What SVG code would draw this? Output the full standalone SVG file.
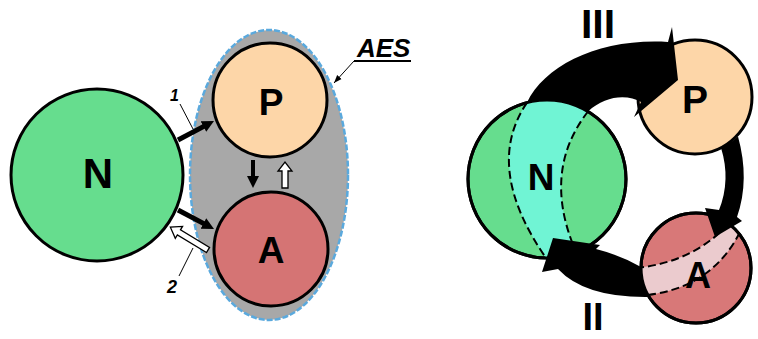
<svg xmlns="http://www.w3.org/2000/svg" width="758" height="339" viewBox="0 0 758 339">
<style>
.node{stroke:#000;stroke-width:3}
.lbl{font-family:"Liberation Sans",Arial,sans-serif;font-weight:bold;fill:#000;text-anchor:middle}
.it{font-family:"Liberation Sans",Arial,sans-serif;font-weight:bold;font-style:italic;fill:#000}
.dash{fill:none;stroke:#000;stroke-width:2;stroke-dasharray:8 4}
.thick{stroke:#000;stroke-width:5;fill:none}
.thin{stroke:#000;stroke-width:1;fill:none}
.hollow{fill:#fff;stroke:#000;stroke-width:1.3}
.big{fill:#000}
</style>
<defs>
<marker id="hd" markerUnits="userSpaceOnUse" markerWidth="14" markerHeight="14" refX="1" refY="0" viewBox="0 -7 14 14" orient="auto"><path d="M0,-6 L12,0 L0,6 Z" fill="#000"/></marker>
<marker id="sm" markerUnits="userSpaceOnUse" markerWidth="9" markerHeight="8" refX="8" refY="0" viewBox="0 -4 9 8" orient="auto"><path d="M0,-3 L8,0 L0,3 Z" fill="#000"/></marker>
<clipPath id="clipN"><circle cx="547" cy="179" r="79"/></clipPath>
<clipPath id="clipA"><circle cx="696" cy="268" r="55"/></clipPath>
</defs>

<!-- LEFT DIAGRAM -->
<g id="AES">
<ellipse cx="269" cy="175" rx="79" ry="145" fill="#a8a8a8" stroke="#5aa9dd" stroke-width="2.5" stroke-dasharray="6 2"/>
<text class="it" x="357" y="57" font-size="26">AES</text>
<line x1="354" y1="61" x2="411" y2="61" stroke="#000" stroke-width="2"/>
<line x1="354" y1="61" x2="334" y2="83" class="thin" marker-end="url(#sm)"/>
</g>
<g id="N1">
<circle class="node" cx="97" cy="175" r="86" fill="#66dd8e"/>
<text class="lbl" x="98" y="188" font-size="42">N</text>
</g>
<g id="P1">
<circle class="node" cx="270" cy="100" r="57" fill="#fdd6a8"/>
<text class="lbl" x="271" y="115" font-size="37">P</text>
</g>
<g id="A1">
<circle class="node" cx="271" cy="249" r="57" fill="#d57474"/>
<text class="lbl" x="271" y="263" font-size="37">A</text>
</g>

<!-- RIGHT DIAGRAM NODES -->
<g id="N2">
<circle class="node" cx="547" cy="179" r="79" fill="#66dd8e"/>
<g clip-path="url(#clipN)">
<path d="M527,102.6 Q483,167 546,258 L572,242 Q544,168 588,111.5 A79 79 0 0 0 527,102.6 Z" fill="#70f4d4"/>
<path class="dash" d="M527,102.6 Q483,167 546,258"/>
<path class="dash" d="M588,111.5 Q544,168 572,242"/>
</g>
<circle cx="547" cy="179" r="79" fill="none" stroke="#000" stroke-width="3"/>
<text class="lbl" x="541" y="190" font-size="37">N</text>
</g>
<g id="A2">
<circle class="node" cx="696" cy="268" r="55" fill="#d87878"/>
<g clip-path="url(#clipA)">
<path d="M636,268 Q695,262 730,222 L742,228 Q712,292 636,296 Z" fill="#ebcbce"/>
<path class="dash" d="M636,268 Q695,262 730,222"/>
<path class="dash" d="M636,296 Q712,292 742,228"/>
</g>
<circle cx="696" cy="268" r="55" fill="none" stroke="#000" stroke-width="3"/>
<text class="lbl" x="698" y="288" font-size="36">A</text>
</g>
<g id="P2">
<circle class="node" cx="695" cy="97" r="57" fill="#fdd6a8"/>
<text class="lbl" x="695" y="113" font-size="39">P</text>
</g>

<!-- CONNECTORS -->
<g id="connectors">
<line class="thick" x1="178" y1="140" x2="204.3" y2="126.1" marker-end="url(#hd)"/>
<line class="thick" x1="178" y1="210" x2="204.3" y2="223.9" marker-end="url(#hd)"/>
<line class="thick" style="stroke-width:4" x1="253" y1="160" x2="253" y2="177" marker-end="url(#hd)"/>
<polygon class="hollow" transform="translate(285,188) rotate(-90)" points="0,-3 17,-3 17,-7 26,0 17,7 17,3 0,3"/>
<polygon class="hollow" transform="translate(208,250) rotate(211.2)" points="0,-3 34,-3 34,-7 44,0 34,7 34,3 0,3"/>
<line class="thin" x1="180" y1="104" x2="193" y2="129"/>
<line class="thin" x1="179" y1="276" x2="193" y2="248"/>
<text class="it" x="170" y="101" font-size="16">1</text>
<text class="it" x="167" y="293" font-size="18">2</text>

<path class="big" d="M527,102.6 C545,65 600,38 668,42 L672,27 L678,80 L634,117 L641,102 C628,94 605,95 588,111.5 A79 79 0 0 0 527,102.6 Z"/>
<path class="big" d="M721,147.7 Q731,180 719,210 L705,208 L715,237 L742,221 L737,217 Q750,180 738,136.6 A57 57 0 0 1 721,147.7 Z"/>
<path class="big" d="M641,267 Q620,255 596,249 L600,245 L553,238 L542,272 L558,269 Q585,298 649.3,297 A55 55 0 0 1 641,267 Z"/>
<text class="lbl" x="598" y="38" font-size="41">III</text>
<text class="lbl" x="593" y="330" font-size="38">II</text>
</g>
</svg>
